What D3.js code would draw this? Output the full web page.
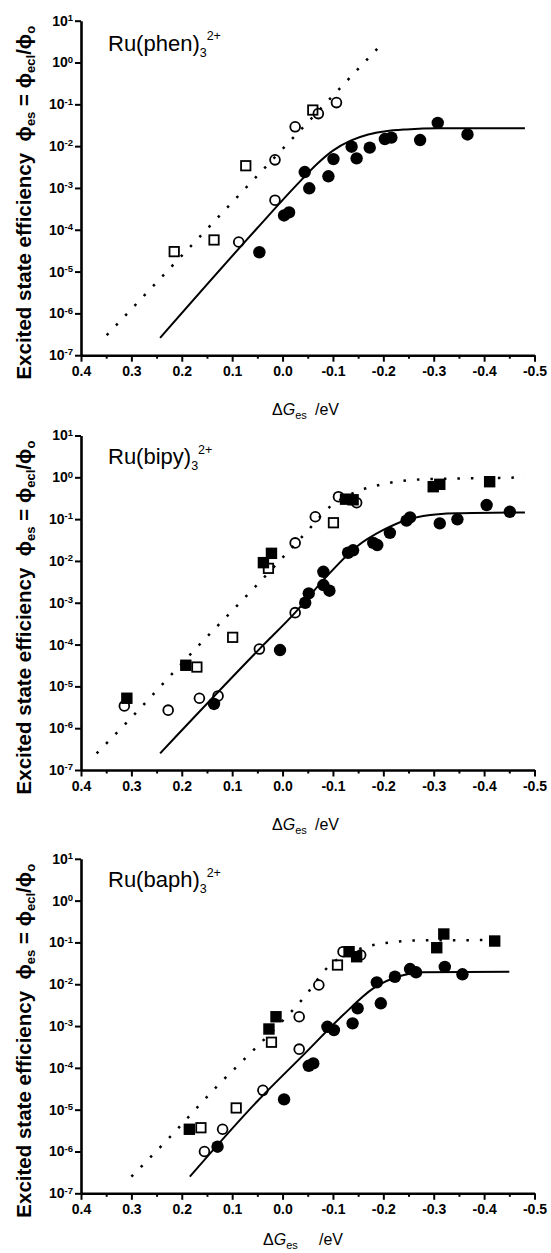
<!DOCTYPE html>
<html>
<head>
<meta charset="utf-8">
<script src="https://cdn.jsdelivr.net/npm/d3@7"></script>
<style>
  body { margin: 0; background: #fff; }
  svg { display: block; font-family: "Liberation Sans", Arial, sans-serif; }
</style>
</head>
<body>
<div class="graphic"></div>
<script>
// tick values
const xTicks = [0.4, 0.3, 0.2, 0.1, 0.0, -0.1, -0.2, -0.3, -0.4, -0.5];
const xMinorTicks = [0.35, 0.25, 0.15, 0.05, -0.05, -0.15, -0.25, -0.35, -0.45];
const yExponents = [1, 0, -1, -2, -3, -4, -5, -6, -7];

// Ru(phen)3 2+   [dG, phi]
const phenFilledCircles = [[-0.308,0.036],[-0.367,0.019],[-0.273,0.014],[-0.203,0.0148],[-0.216,0.016],
  [-0.173,0.0092],[-0.137,0.0097],[-0.147,0.0051],[-0.101,0.0049],[-0.091,0.0019],[-0.044,0.0024],
  [-0.053,0.00098],[-0.003,0.00022],[-0.013,0.00026],[0.046,0.000029]];
const phenOpenCircles = [[-0.107,0.11],[-0.071,0.06],[-0.025,0.029],[0.015,0.0047],[0.015,0.00051],[0.087,0.000051]];
const phenOpenSquares = [[-0.06,0.073],[0.073,0.0034],[0.136,0.000057],[0.215,0.00003]];
const phenFilledSquares = [];
const phenSolid = [[0.243,2.6e-7],[0.051,1.07e-4],[-0.03,1.25e-3],[-0.07,3.9e-3],[-0.1,7.8e-3],
  [-0.135,0.0135],[-0.17,0.019],[-0.205,0.0228],[-0.246,0.0251],[-0.312,0.0266],[-0.481,0.0267]];
const phenDotted = [[0.349,3.0e-7],[-0.195,2.63]];

// Ru(bipy)3 2+
const bipyFilledCircles = [[-0.405,0.217],[-0.451,0.15],[-0.347,0.099],[-0.312,0.079],[-0.253,0.11],
  [-0.246,0.092],[-0.213,0.047],[-0.18,0.027],[-0.188,0.024],[-0.13,0.0157],[-0.14,0.018],
  [-0.081,0.0055],[-0.081,0.00265],[-0.093,0.00194],[-0.052,0.00168],[-0.045,0.001],
  [0.005,0.000074],[0.136,0.0000038]];
const bipyOpenCircles = [[-0.111,0.344],[-0.147,0.247],[-0.065,0.114],[-0.025,0.027],[-0.025,0.00058],
  [0.046,0.000078],[0.128,0.0000059],[0.165,0.0000052],[0.227,0.0000027],[0.314,0.0000034]];
const bipyOpenSquares = [[-0.101,0.082],[0.028,0.00665],[0.099,0.000149],[0.17,0.000029]];
const bipyFilledSquares = [[-0.411,0.785],[-0.299,0.596],[-0.312,0.68],[-0.125,0.3],[-0.14,0.29],
  [0.022,0.0152],[0.038,0.0091],[0.192,0.000032],[0.309,0.0000052]];
const bipySolid = [[0.243,2.5e-7],[0.046,7.8e-5],[-0.025,5.8e-4],[-0.087,4.2e-3],[-0.147,0.0219],
  [-0.2,0.055],[-0.246,0.0955],[-0.279,0.1186],[-0.345,0.138],[-0.481,0.145]];
const bipyDotted = [[0.369,2.5e-7],[0.311,1.3e-6],[0.181,6.2e-5],[0.048,2.9e-3],[-0.048,0.05],
  [-0.094,0.198],[-0.147,0.453],[-0.2,0.69],[-0.279,0.895],[-0.445,0.977],[-0.481,1.0]];

// Ru(baph)3 2+
const baphFilledCircles = [[-0.322,0.026],[-0.357,0.0173],[-0.253,0.0231],[-0.265,0.0193],[-0.223,0.0151],
  [-0.187,0.0111],[-0.195,0.0035],[-0.149,0.00265],[-0.139,0.00116],[-0.089,0.00096],[-0.102,0.0008],
  [-0.052,0.000112],[-0.061,0.000128],[-0.003,0.0000176],[0.129,0.0000013]];
const baphOpenCircles = [[-0.12,0.06],[-0.155,0.05],[-0.072,0.0096],[-0.033,0.00167],[-0.033,0.00028],
  [0.039,0.000029],[0.119,0.0000034],[0.155,0.000001]];
const baphOpenSquares = [[-0.109,0.0288],[0.022,0.00041],[0.092,0.000011],[0.162,0.0000037]];
const baphFilledSquares = [[-0.32,0.159],[-0.306,0.0747],[-0.421,0.108],[-0.132,0.06],[-0.147,0.0455],
  [0.013,0.00167],[0.027,0.00085],[0.185,0.0000034]];
const baphSolid = [[0.184,2.5e-7],[0.051,1.55e-5],[-0.041,2.02e-4],[-0.12,1.83e-3],[-0.18,7.98e-3],
  [-0.233,0.0157],[-0.279,0.0193],[-0.45,0.02]];
const baphDotted = [[0.3,2.5e-7],[0.223,2.25e-6],[0.131,3.53e-5],[0.051,3.2e-4],[-0.041,4.6e-3],
  [-0.094,0.0288],[-0.147,0.0658],[-0.213,0.1],[-0.279,0.112],[-0.438,0.114]];

const panels = [
  {name: "phen", top: 20.7, bottom: 355.2, titleY: 30, dGx: 272, eVx: 315, dGy: 59.5,
   fc: phenFilledCircles, oc: phenOpenCircles, os: phenOpenSquares, fs: phenFilledSquares,
   solid: phenSolid, dotted: phenDotted},
  {name: "bipy", top: 435.5, bottom: 770, titleY: 28.5, dGx: 272, eVx: 315, dGy: 59.5,
   fc: bipyFilledCircles, oc: bipyOpenCircles, os: bipyOpenSquares, fs: bipyFilledSquares,
   solid: bipySolid, dotted: bipyDotted},
  {name: "baph", top: 858.8, bottom: 1193.3, titleY: 28.5, dGx: 263, eVx: 319, dGy: 51.5,
   fc: baphFilledCircles, oc: baphOpenCircles, os: baphOpenSquares, fs: baphFilledSquares,
   solid: baphSolid, dotted: baphDotted}
];

const svg = d3.select(".graphic")
  .append("svg")
  .attr("width", 551)
  .attr("height", 1253)

const x = d3.scaleLinear()
  .domain([0.4, -0.5])
  .range([81, 534.5])

panels.forEach(p => {
  const y = d3.scaleLog()
    .domain([1e-7, 10])
    .range([p.bottom, p.top])

  const g = svg.append("g")

  // minor x ticks
  g.append("g")
    .attr("transform", `translate(0,${p.bottom})`)
    .call(d3.axisBottom(x).tickValues(xMinorTicks).tickSize(3.5).tickSizeOuter(0).tickFormat(""))
    .call(a => a.select(".domain").remove())
    .selectAll("line").attr("stroke-width", 2)

  // major x ticks + axis line
  const xa = g.append("g")
    .attr("transform", `translate(0,${p.bottom})`)
    .call(d3.axisBottom(x).tickValues(xTicks).tickSize(6.5).tickSizeOuter(0).tickPadding(4.5)
      .tickFormat(d => d.toFixed(1)))
  xa.select(".domain").attr("stroke-width", 2.6)
  xa.selectAll("line").attr("stroke-width", 2)
  xa.selectAll("text")
    .attr("font-size", 14)
    .attr("font-weight", "bold")
    .attr("font-family", "Liberation Sans, Arial, sans-serif")

  // y axis
  const ya = g.append("g")
    .attr("transform", "translate(81,0)")
    .call(d3.axisLeft(y).tickValues(yExponents.map(e => Math.pow(10, e))).tickSize(6).tickSizeOuter(0).tickPadding(2))
  ya.select(".domain").attr("stroke-width", 2.6)
  ya.selectAll("line").attr("stroke-width", 2)
  ya.selectAll("text")
    .attr("font-size", 14)
    .attr("font-weight", "bold")
    .attr("font-family", "Liberation Sans, Arial, sans-serif")
    .text("10")
    .append("tspan")
      .attr("dy", "-0.5em")
      .attr("font-size", 9.5)
      .text((d, i) => yExponents[i])

  // fitted curves
  const line = d3.line()
    .x(d => x(d[0]))
    .y(d => y(d[1]))
    .curve(d3.curveMonotoneX)

  g.append("path")
    .attr("d", line(p.dotted))
    .attr("fill", "none")
    .attr("stroke", "black")
    .attr("stroke-width", 2.5)
    .attr("stroke-dasharray", "2.5,11")

  g.append("path")
    .attr("d", line(p.solid))
    .attr("fill", "none")
    .attr("stroke", "black")
    .attr("stroke-width", 2)

  // markers
  g.selectAll(".oc")
    .data(p.oc)
    .join("circle")
      .attr("cx", d => x(d[0]))
      .attr("cy", d => y(d[1]))
      .attr("r", 4.9)
      .attr("fill", "none")
      .attr("stroke", "black")
      .attr("stroke-width", 1.8)

  g.selectAll(".os")
    .data(p.os)
    .join("rect")
      .attr("x", d => x(d[0]) - 4.7)
      .attr("y", d => y(d[1]) - 4.7)
      .attr("width", 9.4)
      .attr("height", 9.4)
      .attr("fill", "none")
      .attr("stroke", "black")
      .attr("stroke-width", 1.8)

  g.selectAll(".fc")
    .data(p.fc)
    .join("circle")
      .attr("cx", d => x(d[0]))
      .attr("cy", d => y(d[1]))
      .attr("r", 6.2)
      .attr("fill", "black")

  g.selectAll(".fs")
    .data(p.fs)
    .join("rect")
      .attr("x", d => x(d[0]) - 5.7)
      .attr("y", d => y(d[1]) - 5.7)
      .attr("width", 11.4)
      .attr("height", 11.4)
      .attr("fill", "black")

  // panel title
  const title = g.append("text")
    .attr("x", 108)
    .attr("y", p.top + p.titleY)
    .attr("font-size", 22)
    .text(`Ru(${p.name})`)
  title.append("tspan").attr("dy", 6).attr("font-size", 12.5).text("3")
  title.append("tspan").attr("dy", -16.5).attr("font-size", 12.5).text("2+")

  // x axis title
  const xt = g.append("text")
    .attr("x", p.dGx)
    .attr("y", p.bottom + p.dGy)
    .attr("font-size", 16)
    .text("Δ")
  xt.append("tspan").attr("font-style", "italic").text("G")
  xt.append("tspan").attr("dy", 4).attr("font-size", 11).text("es")
  g.append("text")
    .attr("x", p.eVx)
    .attr("y", p.bottom + p.dGy)
    .attr("font-size", 16)
    .text("/eV")

  // y axis title
  const yt = g.append("text")
    .attr("transform", `translate(31,${p.top + 182}) rotate(-90)`)
    .attr("text-anchor", "middle")
    .attr("font-size", 20.5)
    .attr("font-weight", "bold")
    .style("white-space", "pre")
    .text("Excited state efficiency  ϕ")
  yt.append("tspan").attr("dy", 4).attr("font-size", 13).text("es")
  yt.append("tspan").attr("dy", -4).text(" = ϕ")
  yt.append("tspan").attr("dy", 4).attr("font-size", 13).text("ecl")
  yt.append("tspan").attr("dy", -4).text("/ϕ")
  yt.append("tspan").attr("dy", 4).attr("font-size", 13).text("o")
})
</script>
</body>
</html>
